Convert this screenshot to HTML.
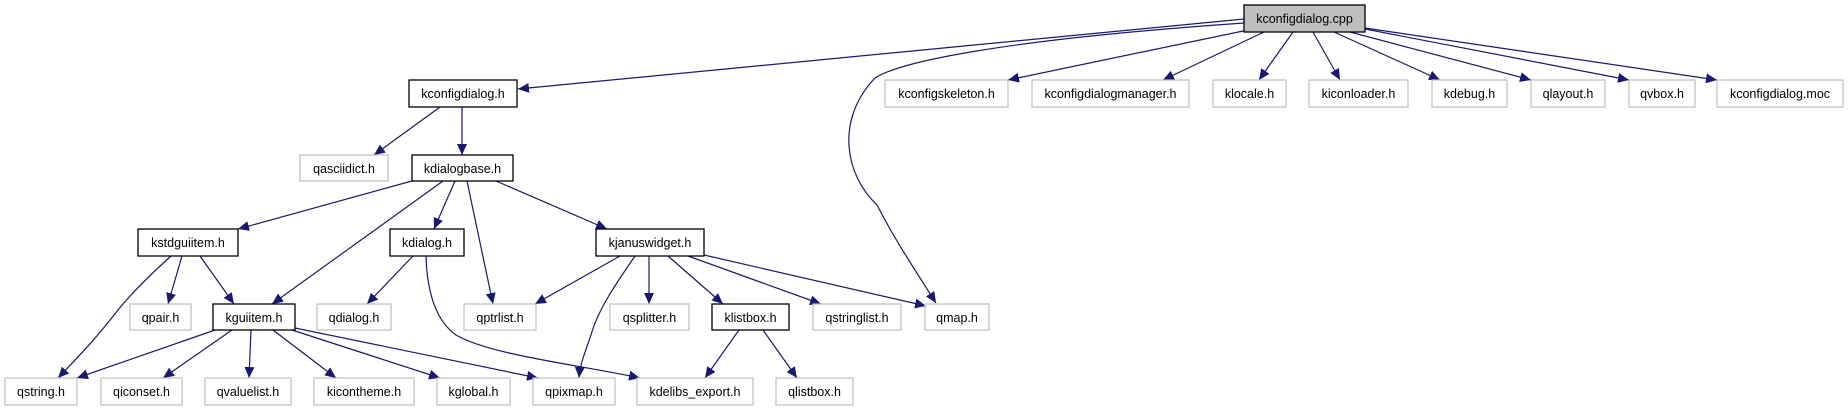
<!DOCTYPE html>
<html><head><meta charset="utf-8"><style>
html,body{margin:0;padding:0;background:#fff;}
svg{display:block;}
text{font-family:"Liberation Sans",sans-serif;font-size:12.5px;fill:#000;text-anchor:middle;}
.e{fill:none;stroke:#191970;stroke-width:1.2;marker-end:url(#a);}
.b{fill:#fff;stroke:#000;stroke-width:1.3;}
.g{fill:#fff;stroke:#bfbfbf;stroke-width:1.2;}
</style></head><body>
<svg width="1848" height="411" viewBox="0 0 1848 411" xmlns="http://www.w3.org/2000/svg">
<defs><marker id="a" markerUnits="userSpaceOnUse" markerWidth="12" markerHeight="10" refX="11" refY="5" orient="auto"><path d="M0,0 L11,5 L0,10 z" fill="#191970"/></marker></defs>
<g>
<path class="e" d="M1244,19 L518,89"/>
<path class="e" d="M1244,23 C1000,40 900,62 875,78 C835,120 845,175 877,205 C895,240 915,270 936,303"/>
<path class="e" d="M1248,30 L1008,80"/>
<path class="e" d="M1264,32 L1163,80"/>
<path class="e" d="M1293,32 L1259,80"/>
<path class="e" d="M1313,32 L1340,80"/>
<path class="e" d="M1334,32 L1440,80"/>
<path class="e" d="M1350,32 L1531,80"/>
<path class="e" d="M1365,29 L1629,80"/>
<path class="e" d="M1365,28 L1717,80"/>
<path class="e" d="M440,107 L374,155"/>
<path class="e" d="M462,107 L462,155"/>
<path class="e" d="M412,181 L238,229"/>
<path class="e" d="M443,181 L272,304"/>
<path class="e" d="M455,181 L434,229"/>
<path class="e" d="M467,181 L493,304"/>
<path class="e" d="M496,181 L607,229"/>
<path class="e" d="M171,256 C150,275 130,295 118,310 C95,340 75,360 58,378"/>
<path class="e" d="M182,256 L168,304"/>
<path class="e" d="M200,256 L234,304"/>
<path class="e" d="M413,256 L367,304"/>
<path class="e" d="M426,256 C427,290 435,320 456,335 C490,355 580,365 640,378"/>
<path class="e" d="M620,256 L535,304"/>
<path class="e" d="M635,256 C615,285 598,310 591,335 C584,355 580,365 579,378"/>
<path class="e" d="M649,256 L649,304"/>
<path class="e" d="M668,256 L723,304"/>
<path class="e" d="M688,256 L821,304"/>
<path class="e" d="M704,255 L926,306"/>
<path class="e" d="M215,330 L77,378"/>
<path class="e" d="M232,330 L163,378"/>
<path class="e" d="M251,330 L249,378"/>
<path class="e" d="M273,330 L336,378"/>
<path class="e" d="M292,330 L440,378"/>
<path class="e" d="M295,328 L538,378"/>
<path class="e" d="M739,330 L705,378"/>
<path class="e" d="M763,330 L797,378"/>
</g>
<g>
<rect x="1244" y="5" width="121" height="27" fill="#bfbfbf" stroke="#000" stroke-width="1.3"/><text x="1304.5" y="23">kconfigdialog.cpp</text>
<rect class="b" x="409" y="80" width="108" height="27"/><text x="463" y="98">kconfigdialog.h</text>
<rect class="g" x="885" y="80" width="123" height="27"/><text x="946.5" y="98">kconfigskeleton.h</text>
<rect class="g" x="1032" y="80" width="157" height="27"/><text x="1110.5" y="98">kconfigdialogmanager.h</text>
<rect class="g" x="1213" y="80" width="73" height="27"/><text x="1249.5" y="98">klocale.h</text>
<rect class="g" x="1309" y="80" width="99" height="27"/><text x="1358.5" y="98">kiconloader.h</text>
<rect class="g" x="1432" y="80" width="75" height="27"/><text x="1469.5" y="98">kdebug.h</text>
<rect class="g" x="1531" y="80" width="74" height="27"/><text x="1568" y="98">qlayout.h</text>
<rect class="g" x="1629" y="80" width="66" height="27"/><text x="1662" y="98">qvbox.h</text>
<rect class="g" x="1717" y="80" width="126" height="27"/><text x="1780" y="98">kconfigdialog.moc</text>
<rect class="g" x="300" y="155" width="88" height="26"/><text x="344" y="173">qasciidict.h</text>
<rect class="b" x="412" y="155" width="101" height="26"/><text x="462.5" y="173">kdialogbase.h</text>
<rect class="b" x="138" y="229" width="100" height="27"/><text x="188" y="247">kstdguiitem.h</text>
<rect class="b" x="390" y="229" width="74" height="27"/><text x="427" y="247">kdialog.h</text>
<rect class="b" x="596" y="229" width="108" height="27"/><text x="650" y="247">kjanuswidget.h</text>
<rect class="g" x="130" y="304" width="61" height="26"/><text x="160.5" y="322">qpair.h</text>
<rect class="b" x="213" y="304" width="82" height="26"/><text x="254" y="322">kguiitem.h</text>
<rect class="g" x="317" y="304" width="74" height="26"/><text x="354" y="322">qdialog.h</text>
<rect class="g" x="464" y="304" width="72" height="26"/><text x="500" y="322">qptrlist.h</text>
<rect class="g" x="610" y="304" width="79" height="26"/><text x="649.5" y="322">qsplitter.h</text>
<rect class="b" x="712" y="304" width="77" height="26"/><text x="750.5" y="322">klistbox.h</text>
<rect class="g" x="813" y="304" width="88" height="26"/><text x="857" y="322">qstringlist.h</text>
<rect class="g" x="925" y="304" width="64" height="26"/><text x="957" y="322">qmap.h</text>
<rect class="g" x="5" y="378" width="72" height="27"/><text x="41" y="396">qstring.h</text>
<rect class="g" x="101" y="378" width="81" height="27"/><text x="141.5" y="396">qiconset.h</text>
<rect class="g" x="205" y="378" width="86" height="27"/><text x="248" y="396">qvaluelist.h</text>
<rect class="g" x="314" y="378" width="100" height="27"/><text x="364" y="396">kicontheme.h</text>
<rect class="g" x="437" y="378" width="73" height="27"/><text x="473.5" y="396">kglobal.h</text>
<rect class="g" x="533" y="378" width="82" height="27"/><text x="574" y="396">qpixmap.h</text>
<rect class="g" x="637" y="378" width="116" height="27"/><text x="695" y="396">kdelibs_export.h</text>
<rect class="g" x="776" y="378" width="77" height="27"/><text x="814.5" y="396">qlistbox.h</text>
</g>
</svg>
</body></html>
